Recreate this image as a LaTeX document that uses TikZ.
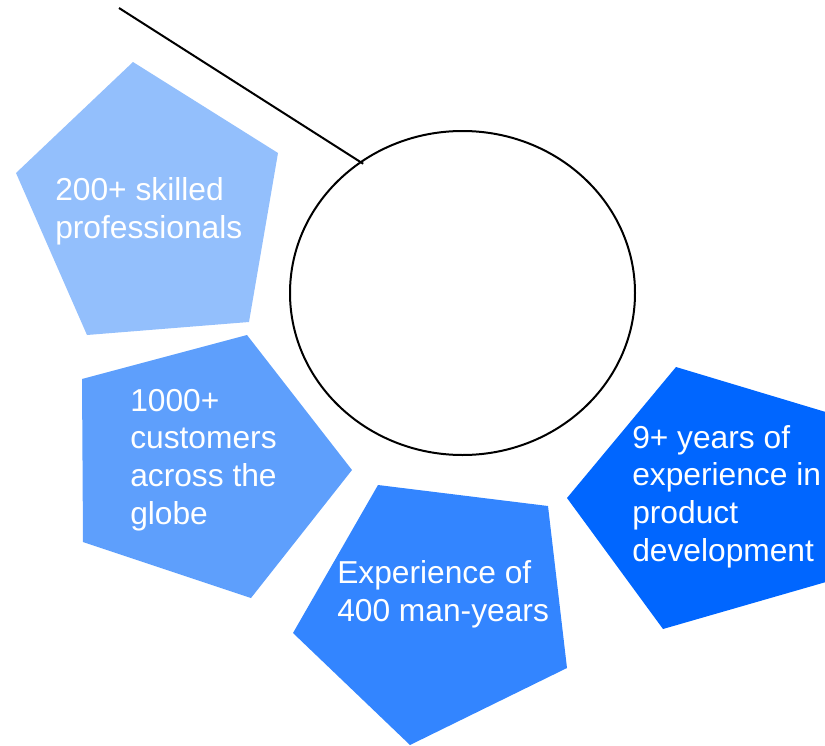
\documentclass[tikz,border=0pt]{standalone}
\usepackage{fontspec}
\setmainfont{Liberation Sans}
\usetikzlibrary{positioning,shapes.geometric}

\definecolor{tintA}{HTML}{93BFFC}
\definecolor{tintB}{HTML}{5E9FFC}
\definecolor{tintC}{HTML}{3385FF}
\definecolor{tintD}{HTML}{0066FF}

\tikzset{
  blurb/.style={text=white,align=left,inner sep=0pt,anchor=base west,
    font=\fontsize{23.8}{28.2}\selectfont},
  hubring/.style={ellipse,draw=black,line width=1.5pt,
    minimum width=258.75pt,minimum height=243pt,inner sep=0pt}
}

\begin{document}
\begin{tikzpicture}[x=0.75pt,y=0.75pt,yscale=-1,xscale=1]
\useasboundingbox (0,0) rectangle (825,746);
\clip (0,0) rectangle (825,746);

%Shape: Pentagon [skilled]
\fill [tintA] (133,62) -- (278,153) -- (249,322) -- (87,335) -- (16,173) -- cycle ;
%Shape: Pentagon [customers]
\fill [tintB] (247,335) -- (352,470) -- (251,598) -- (83,542) -- (82,379) -- cycle ;
%Shape: Pentagon [manyears]
\fill [tintC] (378,485) -- (548,506) -- (567,668) -- (410,745) -- (293,633) -- cycle ;
%Shape: Pentagon [years]
\fill [tintD] (676,367) -- (839,416) -- (826,582) -- (663,629) -- (567,498) -- cycle ;

%Text (anchored at the baseline of the last line)
\node [blurb] (skilled) at (55,238) {200+ skilled\\professionals};
\node [blurb] (customers) at (130,524) {1000+\\customers\\across the\\globe};
\node [blurb] (manyears) at (337,621) {Experience of\\400 man-years};
\node [blurb] (years) at (632,561) {9+ years of\\experience in\\product\\development};

%Circle and line
\node [hubring] (hub) at (462.5,293) {};
\coordinate (tail) at (119,8);
\draw [line width=1.5pt,shorten >=-3pt] (tail) -- (hub.128);

\end{tikzpicture}
\end{document}
